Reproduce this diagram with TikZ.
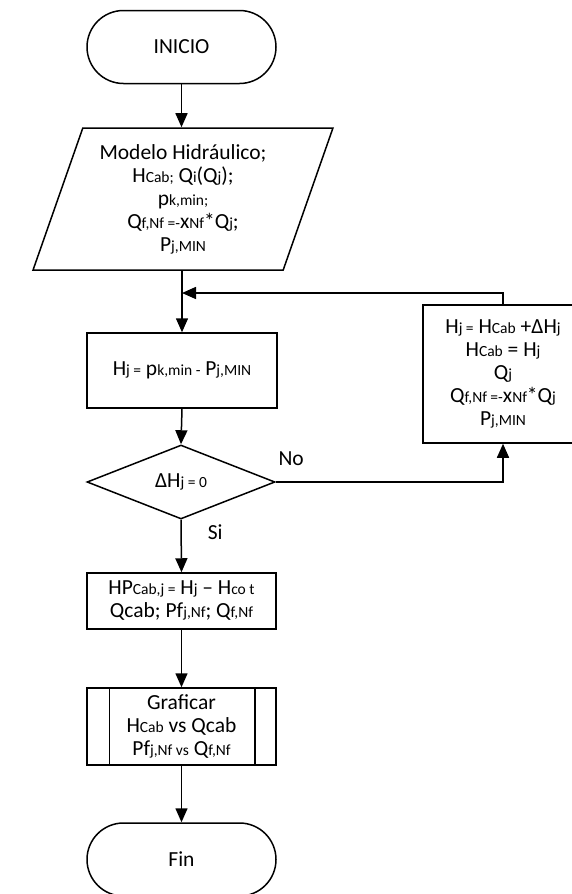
\documentclass[tikz,border=0pt]{standalone}
\usepackage{fontspec}
\setmainfont{Carlito}
\usetikzlibrary{shapes.geometric,arrows.meta}
\newcommand\lw[1]{{\fontsize{15.5}{16}\selectfont #1}}

\begin{document}
\begin{tikzpicture}[x=1pt,y=-1pt,line width=1.5pt,
  font=\fontsize{21.5}{23}\selectfont,
  every node/.style={align=center,inner sep=2pt},
  terminal/.style={draw,rectangle,rounded corners=36.5pt,minimum width=189pt,minimum height=73pt},
  databox/.style={draw,trapezium,trapezium left angle=69.5,trapezium right angle=110.5,
    trapezium stretches=true,minimum width=300pt,minimum height=142pt},
  procbox/.style={draw,rectangle,minimum width=190pt},
  decision/.style={draw,diamond,aspect=2.5,minimum width=188pt,minimum height=74pt},
  flow/.style={-{Triangle[length=14pt,width=12pt]}}]
  \useasboundingbox (0,0) rectangle (571,894);
  \node[terminal] (inicio) at (181.5,47) {INICIO};
  \node[databox] (modelo) at (183,199) {Modelo Hidráulico;\\
    H\lw{Cab;} Q\lw{i}(Q\lw{j});\\
    p\lw{k,min;}\\
    Q\lw{f,Nf =-}x\lw{Nf}*Q\lw{j};\\
    P\lw{j,MIN}};
  \node[procbox,minimum height=75pt] (hj) at (182,370.5) {H\lw{j =} p\lw{k,min -} P\lw{j,MIN}};
  \node[decision] (dec) at (181,482) {ΔH\lw{j = 0}};
  \node[procbox,minimum width=160pt,minimum height=138pt] (calc) at (503,374) {H\lw{j =} H\lw{Cab} +ΔH\lw{j}\\
    H\lw{Cab} = H\lw{j}\\
    Q\lw{j}\\
    Q\lw{f,Nf =-}x\lw{Nf}*Q\lw{j}\\
    P\lw{j,MIN}};
  \node[procbox,minimum width=189pt,minimum height=56pt] (hp) at (181.5,601) {HP\lw{Cab,j =} H\lw{j} -- H\lw{co t}\\
    Qcab; Pf\lw{j,Nf}; Q\lw{f,Nf}};
  \node[procbox,minimum width=189pt,minimum height=77pt] (graf) at (181.5,726.5) {Graficar\\
    H\lw{Cab} vs Qcab\\
    Pf\lw{j,Nf vs} Q\lw{f,Nf}};
  \draw ([xshift=23pt]graf.north west) -- ([xshift=23pt]graf.south west);
  \draw ([xshift=-22pt]graf.north east) -- ([xshift=-22pt]graf.south east);
  \node[terminal] (fin) at (181.5,859.5) {Fin};
  \coordinate (join) at (182,293);

  \draw[flow] (inicio.south) -- (inicio.south |- modelo.north);
  \draw[flow] (hj.north |- modelo.south) -- (hj.north);
  \draw[flow] (calc.north) |- (join);
  \draw[flow] (hj.south) -- (dec.north);
  \draw[flow] (dec.east) -| node[pos=0,anchor=south west,yshift=14pt] (no) {No} (calc.south);
  \draw[flow] (dec.south) -- node[pos=0.24,anchor=west,xshift=24pt] (si) {Si} (hp.north);
  \draw[flow] (hp.south) -- (graf.north);
  \draw[flow] (graf.south) -- (fin.north);
\end{tikzpicture}
\end{document}
